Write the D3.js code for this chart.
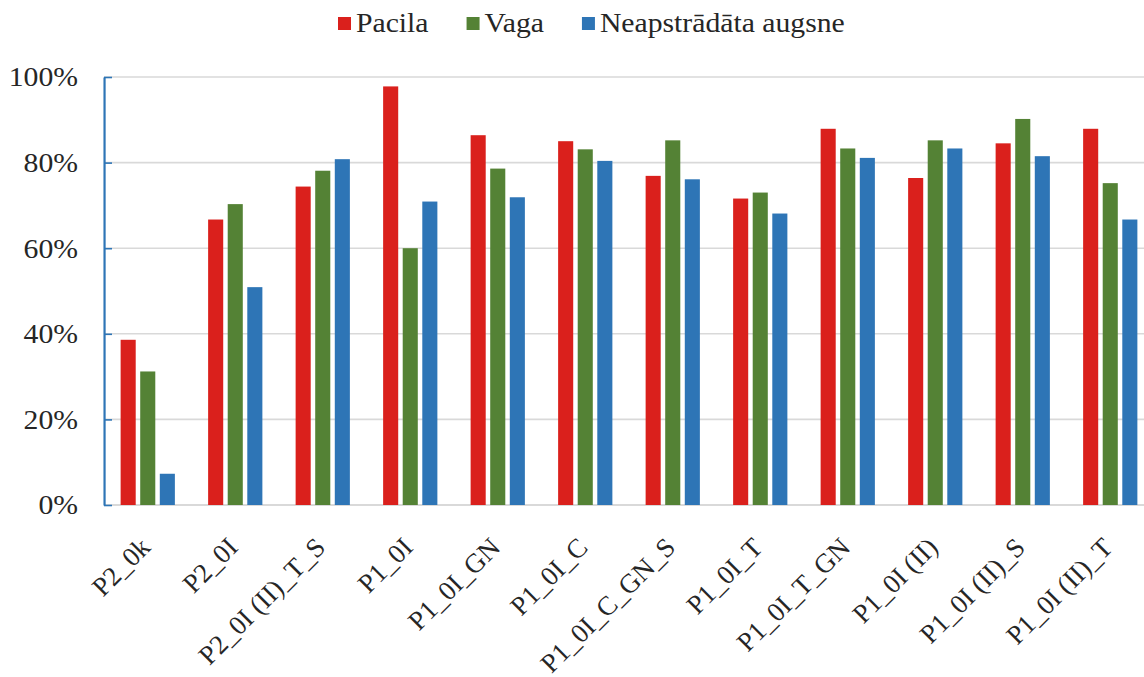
<!DOCTYPE html>
<html>
<head>
<meta charset="utf-8">
<script src="https://cdn.jsdelivr.net/npm/d3@7"></script>
<style>
  html, body { margin: 0; padding: 0; background: #fff; }
  svg { display: block; }
  text { font-family: "Liberation Serif", "Times New Roman", serif; fill: #262626; }
</style>
</head>
<body>
<div id="chart"></div>
<script>
// Categories (treatments) along the x axis
const categories = [
  "P2_0k", "P2_0I", "P2_0I (II)_T_S", "P1_0I", "P1_0I_GN", "P1_0I_C",
  "P1_0I_C_GN_S", "P1_0I_T", "P1_0I_T_GN", "P1_0I (II)", "P1_0I (II)_S", "P1_0I (II)_T"
];
// Series names
const seriesNames = ["Pacila", "Vaga", "Neapstrādāta augsne"];
// Series values (share, 0–1)
const pacila = [0.386, 0.667, 0.744, 0.978, 0.864, 0.850, 0.769, 0.716, 0.879, 0.764, 0.845, 0.879];
const vaga   = [0.312, 0.703, 0.781, 0.600, 0.786, 0.831, 0.852, 0.730, 0.833, 0.852, 0.902, 0.752];
const neap   = [0.073, 0.509, 0.808, 0.709, 0.719, 0.804, 0.761, 0.681, 0.811, 0.833, 0.815, 0.667];
// Y axis tick values
const yTicks = [0, 0.2, 0.4, 0.6, 0.8, 1.0];

const colors = ["#DA201C", "#548235", "#2E75B6"];
const seriesValues = [pacila, vaga, neap];

const W = 1144, H = 677;
const S = 1.1;                 // horizontal stretch of the drawing
const X = v => v / S;          // page-x to drawing-x

const svg = d3.select("#chart").append("svg")
  .attr("width", W).attr("height", H)
  .attr("viewBox", `0 0 ${W / S} ${H}`)
  .attr("preserveAspectRatio", "none");

const plotLeft = X(104), plotRight = X(1154), plotTop = 77, plotBottom = 505;

const x0 = d3.scaleBand().domain(categories).range([plotLeft, plotRight])
  .paddingInner(0.38).paddingOuter(0.19);
const x1 = d3.scaleBand().domain(seriesNames).range([0, x0.bandwidth()])
  .paddingInner(0.23);
const y = d3.scaleLinear().domain([0, 1]).range([plotBottom, plotTop]);

// Gridlines
svg.append("g").selectAll("line").data(yTicks.filter(d => d > 0)).join("line")
  .attr("x1", plotLeft).attr("x2", W / S)
  .attr("y1", d => y(d)).attr("y2", d => y(d))
  .attr("stroke", "#d9d9d9").attr("stroke-width", 1.6);

// Bottom baseline
svg.append("line")
  .attr("x1", plotLeft).attr("x2", W / S)
  .attr("y1", plotBottom).attr("y2", plotBottom)
  .attr("stroke", "#d9d9d9").attr("stroke-width", 2);

// Bars
const groups = svg.append("g").selectAll("g").data(categories).join("g")
  .attr("transform", d => `translate(${x0(d)},0)`);
groups.selectAll("rect")
  .data((c, i) => seriesNames.map((s, k) => ({ s, k, v: seriesValues[k][i] })))
  .join("rect")
  .attr("x", d => x1(d.s))
  .attr("width", x1.bandwidth())
  .attr("y", d => y(d.v))
  .attr("height", d => y(0) - y(d.v))
  .attr("fill", d => colors[d.k]);

// Y axis
const yAxis = d3.axisLeft(y).tickValues(yTicks)
  .tickFormat(d => Math.round(d * 100) + "%")
  .tickSizeInner(-X(8)).tickSizeOuter(0).tickPadding(X(26));
const gy = svg.append("g").attr("transform", `translate(${plotLeft},0)`).call(yAxis);
gy.select(".domain").attr("stroke", "#2E75B6").attr("stroke-width", 2);
gy.selectAll(".tick line").attr("stroke", "#2E75B6").attr("stroke-width", 1.6);
gy.selectAll(".tick text")
  .attr("font-family", "Liberation Serif, serif")
  .attr("font-size", 27).attr("fill", "#262626").attr("dy", "0.33em");

// Category labels, rotated 45° (drawn without the horizontal stretch)
svg.append("g").selectAll("text").data(categories).join("text")
  .attr("transform", d => `translate(${x0(d) + x0.bandwidth() / 2 + X(4)},549) scale(${1 / S},1) rotate(-45)`)
  .attr("text-anchor", "end")
  .attr("font-size", 27)
  .text(d => d);

// Legend
const legend = svg.append("g").attr("transform", `translate(${X(338)},0)`);
let lx = 0;
seriesNames.forEach((name, k) => {
  const g = legend.append("g").attr("transform", `translate(${lx},0)`);
  g.append("rect").attr("x", 0).attr("y", 17).attr("width", X(13)).attr("height", 13)
    .attr("fill", colors[k]);
  const t = g.append("text").attr("x", X(18)).attr("y", 32)
    .attr("font-size", 27).text(name);
  lx += X(18) + t.node().getComputedTextLength() + X(38);
});
</script>
</body>
</html>
